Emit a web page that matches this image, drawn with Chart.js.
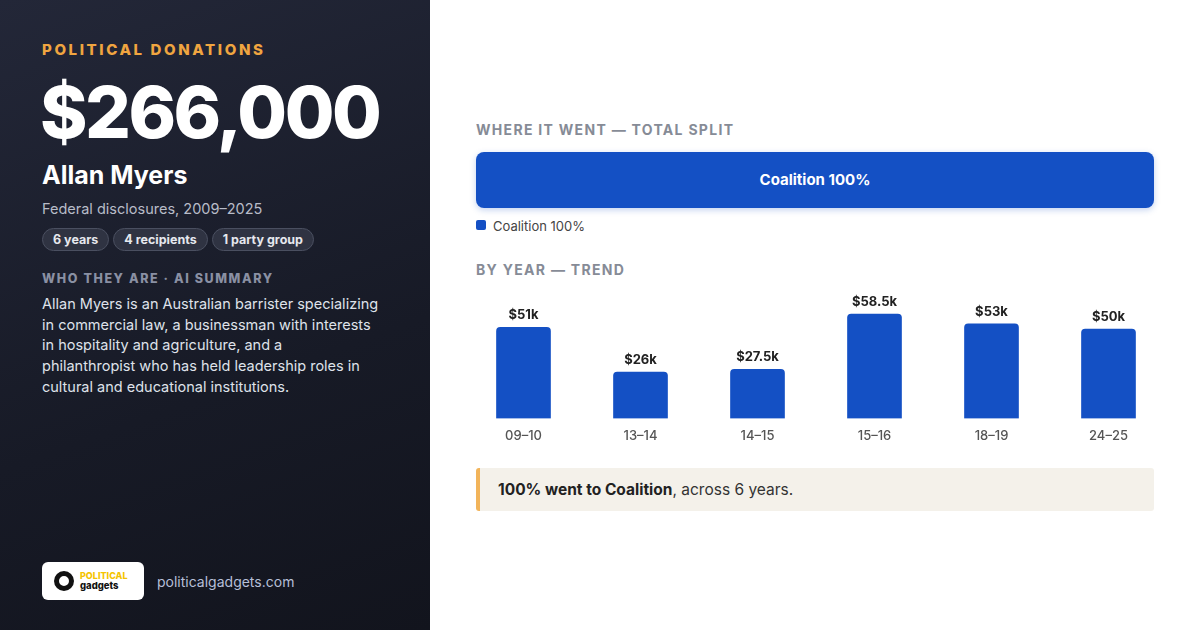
<!DOCTYPE html>
<html><head><meta charset="utf-8">
<script src="https://cdn.jsdelivr.net/npm/chart.js@4"></script>
<style>
*{margin:0;padding:0;box-sizing:border-box}
body{width:1200px;height:630px;font-family:Inter,"Open Sans",sans-serif;background:#fff;position:relative;overflow:hidden}
#left{position:absolute;left:0;top:0;width:430px;height:630px;background:linear-gradient(160deg,#232738 0%,#171a26 60%,#12141d 100%);color:#fff}
.a{position:absolute}
.pill{display:inline-block;border:1px solid #4a4f60;background:#2f3342;border-radius:12px;font-size:12.5px;font-weight:700;color:#e6e8ee;padding:3px 10px;margin-right:4px}
#right .h{position:absolute;left:476px;font-size:14px;font-weight:700;letter-spacing:1.3px;color:#868b96}
</style></head><body>
<div id="left">
 <div class="a" style="left:42px;top:40px;font-size:15px;font-weight:800;letter-spacing:2.6px;color:#f0a540">POLITICAL DONATIONS</div>
 <div class="a" style="left:40px;top:68px;font-size:72px;font-weight:800;letter-spacing:-2.5px">$266,000</div>
 <div class="a" style="left:42px;top:160px;font-size:25px;font-weight:700">Allan Myers</div>
 <div class="a" style="left:42px;top:200px;font-size:14.5px;color:#b8bcc8">Federal disclosures, 2009–2025</div>
 <div class="a" style="left:42px;top:228px"><span class="pill">6 years</span><span class="pill">4 recipients</span><span class="pill">1 party group</span></div>
 <div class="a" style="left:42px;top:271px;font-size:12.5px;font-weight:800;letter-spacing:1.6px;color:#8a90a3">WHO THEY ARE · AI SUMMARY</div>
 <div class="a" style="left:42px;top:294px;width:380px;white-space:nowrap;font-size:14.5px;line-height:20.7px;color:#dfe2ea">Allan Myers is an Australian barrister specializing<br>in commercial law, a businessman with interests<br>in hospitality and agriculture, and a<br>philanthropist who has held leadership roles in<br>cultural and educational institutions.</div>
 <div class="a" style="left:42px;top:562px;width:102px;height:38px;background:#fff;border-radius:6px">
  <div class="a" style="left:12px;top:9px;width:20px;height:20px;border-radius:50%;border:5px solid #111"></div>
  <div class="a" style="left:38px;top:9px;font-size:9px;font-weight:800;color:#f5c400;line-height:10px">POLITICAL</div>
  <div class="a" style="left:38px;top:18px;font-size:9.5px;font-weight:800;color:#111;line-height:11px">gadgets</div>
 </div>
 <div class="a" style="left:157px;top:573px;font-size:14px;color:#b6bfd8">politicalgadgets.com</div>
</div>
<div id="right">
 <div class="h" style="top:121px">WHERE IT WENT — TOTAL SPLIT</div>
 <div class="a" style="left:476px;top:152px;width:678px;height:56px;background:#1450c4;border-radius:8px;box-shadow:0 2px 6px rgba(20,80,196,.25);color:#fff;font-weight:700;font-size:15px;text-align:center;line-height:56px">Coalition 100%</div>
 <div class="a" style="left:476px;top:220px;width:10px;height:10px;background:#1450c4;border-radius:2px"></div>
 <div class="a" style="left:493px;top:218px;font-size:13px;color:#444">Coalition 100%</div>
 <div class="h" style="top:261px">BY YEAR — TREND</div>
 <div class="a" style="left:465px;top:281px;width:702px;height:165px"><canvas id="c"></canvas></div>
 <div class="a" style="left:476px;top:468px;width:678px;height:43px;background:#f4f1ea;border-left:4px solid #f2b45a;border-radius:3px;font-size:15.5px;color:#333;line-height:43px;padding-left:18px"><b style="color:#222">100% went to Coalition</b>, across 6 years.</div>
</div>
<script>
const categories=["09–10","13–14","14–15","15–16","18–19","24–25"];
const values=[51,26,27.5,58.5,53,50];
const valueLabels=["$51k","$26k","$27.5k","$58.5k","$53k","$50k"];
const lbl={id:'lbl',afterDatasetsDraw(ch){const ctx=ch.ctx;ch.getDatasetMeta(0).data.forEach((b,i)=>{ctx.save();ctx.font='700 13px Inter';ctx.fillStyle='#222';ctx.textAlign='center';ctx.fillText(valueLabels[i],b.x,b.y-8);ctx.restore();});}};
new Chart(document.getElementById('c'),{type:'bar',data:{labels:categories,datasets:[{data:values,backgroundColor:'#1450c4',barThickness:54,borderRadius:{topLeft:4,topRight:4},borderSkipped:'bottom'}]},
options:{responsive:true,maintainAspectRatio:false,animation:false,layout:{padding:0},plugins:{legend:{display:false},tooltip:{enabled:false}},
scales:{y:{display:false,min:0,max:77},x:{grid:{display:false},border:{display:false},ticks:{color:'#555',font:{size:13,family:'Inter',weight:'500'},padding:2}}}},plugins:[lbl]});
</script>
</body></html>
